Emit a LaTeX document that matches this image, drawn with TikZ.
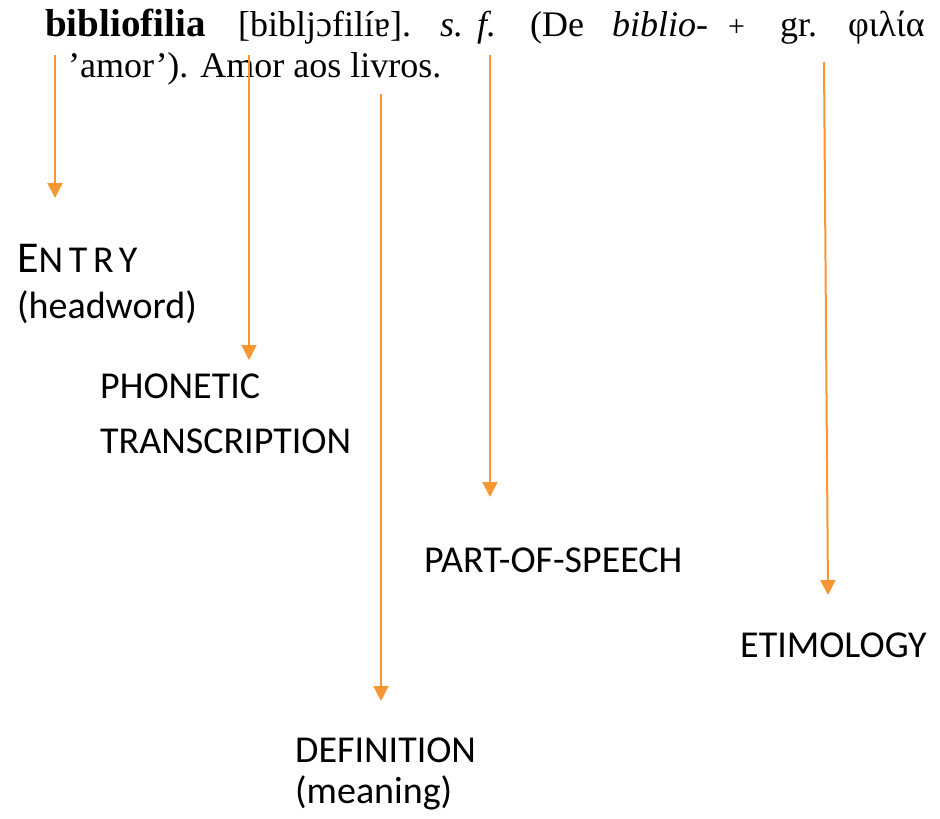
\documentclass[tikz,border=0pt]{standalone}
\usepackage{fontspec}
\setmainfont{Liberation Serif}
\newfontfamily\labelfont{Carlito}
\usetikzlibrary{arrows.meta}
\definecolor{arroworange}{RGB}{247,150,50}

\begin{document}
\begin{tikzpicture}[x=1pt, y=-1pt,
  word/.style={inner sep=0pt, anchor=base west, font=\fontsize{36}{40}\selectfont},
  tag/.style={inner sep=0pt, anchor=base west, font=\labelfont\fontsize{38}{42}\selectfont},
  pointer/.style={-{Triangle[length=15pt, width=15pt]}, line width=2pt, arroworange}]

\useasboundingbox (0,0) rectangle (940,819);

% Dictionary entry, first line
\node[word, font=\fontsize{39}{42}\selectfont] (head) at (45,36) {\textbf{bibliofilia}};
\node[word] (phon) at (238,36) {[bibljɔfilíɐ].};
\node[word] (gs) at (440,36) {\textit{s.}};
\node[word] (gf) at (477,36) {\textit{f.}};
\node[word] (de) at (530,36) {(De};
\node[word] (pref) at (612,36) {\textit{biblio-}};
\node[word, font=\fontsize{30}{34}\selectfont] (plus) at (728,36) {+};
\node[word] (gr) at (780,36) {gr.};
\node[word] (greek) at (848,36) {φιλία};

% Second line
\node[word] (gloss) at (68,77) {’amor’). Amor aos livros.};

% Labels
\node[tag] (entry) at (17,272) {{\fontsize{44}{48}\selectfont E}\addfontfeature{LetterSpace=15}NTRY};
\node[tag] (headword) at (17,318) {(headword)};
\node[tag] (phonetic) at (100,398) {PHONETIC};
\node[tag] (transcr) at (100,453) {TRANSCRIPTION};
\node[tag] (pos) at (424,572) {PART-OF-SPEECH};
\node[tag] (etym) at (740,657) {ETIMOLOGY};
\node[tag] (defn) at (295,762) {DEFINITION};
\node[tag] (meaning) at (295,803) {(meaning)};

% Arrow ends
\coordinate (a1) at (55,55);   \coordinate (b1) at (55,198);
\coordinate (a2) at (249,55);  \coordinate (b2) at (249,360);
\coordinate (a3) at (381,94);  \coordinate (b3) at (381,701);
\coordinate (a4) at (490,55);  \coordinate (b4) at (490,497);
\coordinate (a5) at (824,62);  \coordinate (b5) at (828,595);

% Arrows
\draw[pointer] (a1) -- (b1);
\draw[pointer] (a2) -- (b2);
\draw[pointer] (a3) -- (b3);
\draw[pointer] (a4) -- (b4);
\draw[pointer] (a5) -- (b5);

\end{tikzpicture}
\end{document}
